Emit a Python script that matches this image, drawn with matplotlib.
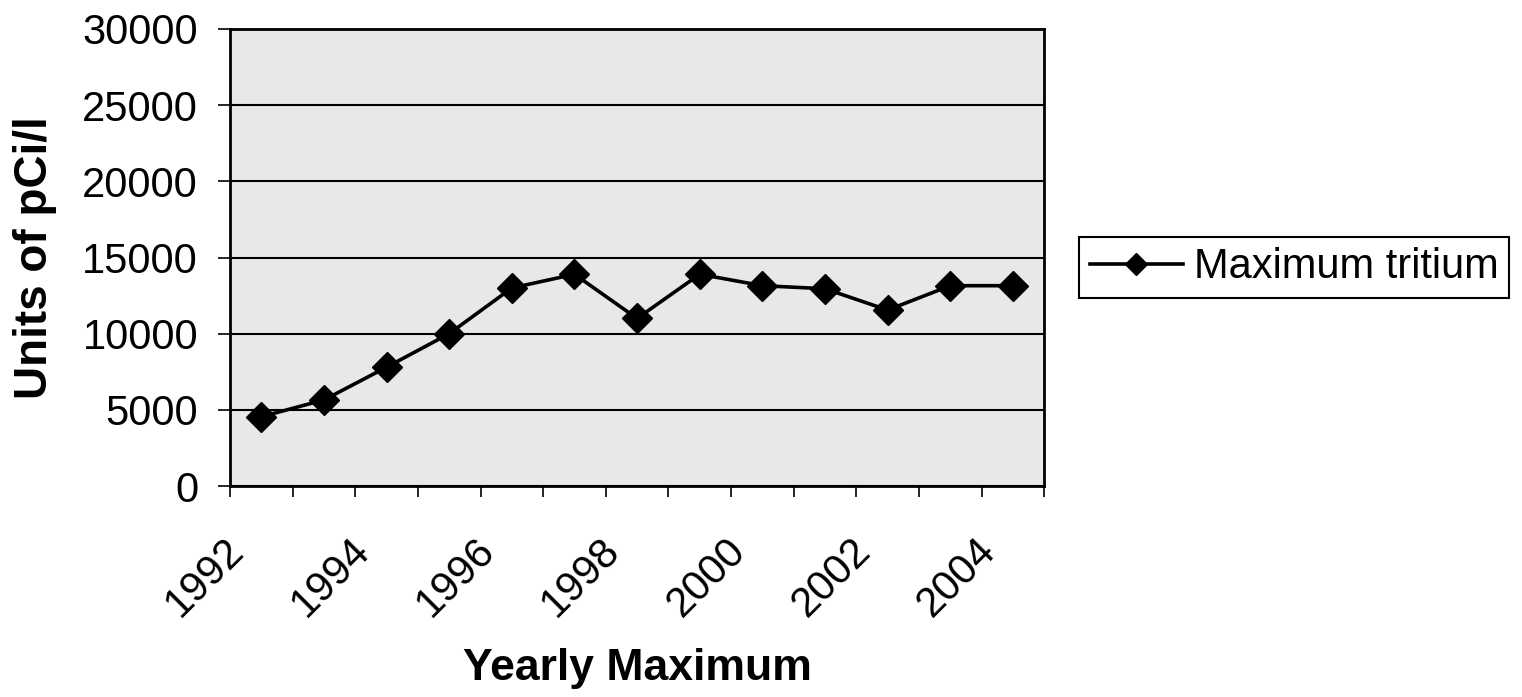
import matplotlib
matplotlib.use('Agg')
import matplotlib.pyplot as plt
import numpy as np

plt.rcParams['font.family'] = ['Liberation Sans', 'DejaVu Sans']

# Yearly maximum tritium values (pCi/l)
years = [1992, 1993, 1994, 1995, 1996, 1997, 1998, 1999, 2000, 2001, 2002, 2003, 2004]
tritium = [4550, 5650, 7800, 10000, 13000, 13900, 11000, 13900, 13150, 12950, 11550, 13150, 13150]

fig = plt.figure(figsize=(15.22, 6.97), dpi=100)
ax = fig.add_axes([0.1511, 0.3027, 0.535, 0.6557])

# category positions (Excel style: points at the middle of each slot)
x = np.arange(len(years)) + 0.5

ax.set_facecolor('#e8e8e8')
ax.set_axisbelow(True)
ax.yaxis.grid(True, color='black', linewidth=1.5)

ax.plot(x, tritium, '-', color='black', linewidth=2.6, marker='D',
        markersize=15, label='Maximum tritium', zorder=3)

ax.set_xlim(0, len(years))
ax.set_ylim(0, 30000)
ax.set_yticks(np.arange(0, 30001, 5000))
ax.tick_params(axis='y', labelsize=30, length=9, width=1.2, direction='out', pad=14)

# slot boundaries get tick marks, every other year gets a label
ax.set_xticks(np.arange(0, len(years) + 1))
ax.set_xticklabels([])
ax.tick_params(axis='x', which='major', length=8, width=1.2, direction='out')
# label anchors nudged a little left of the slot centres, like Excel does
ax.set_xticks(x[::2] - 0.37, minor=True)
ax.set_xticklabels([str(y) for y in years[::2]], minor=True, rotation=45,
                   ha='right', va='center', rotation_mode='anchor', fontsize=30)
ax.tick_params(axis='x', which='minor', length=0, pad=42)

for s in ax.spines.values():
    s.set_color('black')
    s.set_linewidth(2)

ax.set_xlabel('Yearly Maximum', fontsize=32, fontweight='bold')
ax.xaxis.set_label_coords(0.5, -0.355)
ax.set_ylabel('Units of pCi/l', fontsize=33, fontweight='bold')
ax.yaxis.set_label_coords(-0.212, 0.5)

leg = ax.legend(loc='upper left', bbox_to_anchor=(0.709, 0.66),
                bbox_transform=fig.transFigure, fontsize=30, frameon=True,
                fancybox=False, edgecolor='black', framealpha=1,
                borderaxespad=0, markerscale=0.75, handlelength=2.25,
                handletextpad=0.25, borderpad=0.25)
leg.get_frame().set_linewidth(1.5)

fig.savefig('out.png', dpi=100, facecolor='white')
